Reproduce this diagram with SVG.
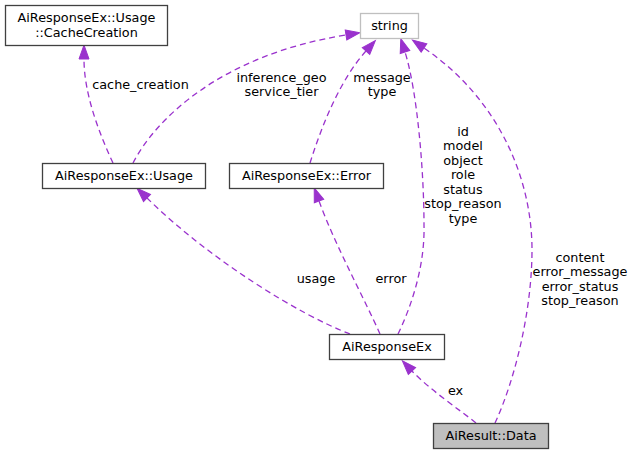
<svg xmlns="http://www.w3.org/2000/svg" width="633" height="455" viewBox="0 0 633 455">
<style>
text{font-family:"DejaVu Sans","Liberation Sans",sans-serif;font-size:12.8px;fill:#000;text-anchor:middle}
.box{fill:#fff;stroke:#404040;stroke-width:1.3}
.ext{fill:#fff;stroke:#bfbfbf;stroke-width:1.3}
.cur{fill:#bfbfbf;stroke:#404040;stroke-width:1.3}
.edge{fill:none;stroke:#9a32cd;stroke-width:1.3;stroke-dasharray:6,4;marker-end:url(#arr)}
</style>
<defs>
<marker id="arr" markerUnits="userSpaceOnUse" markerWidth="16" markerHeight="12" refX="0" refY="5" orient="auto" overflow="visible">
<path d="M0,0 L14,5 L0,10 Z" fill="#9a32cd" stroke="#9a32cd" stroke-width="1"/>
</marker>
</defs>
<rect width="633" height="455" fill="#fff"/>
<g id="edges">
<path class="edge" d="M113,163 C100,135 84,95 84,59"/>
<path class="edge" d="M133,163 C155,120 220,55 346,35"/>
<path class="edge" d="M310,163 C322,125 340,80 366,51"/>
<path class="edge" d="M398,334 C412,305 425,265 424,225 C424,170 417,90 405,52"/>
<path class="edge" d="M495,423 C515,380 532,310 532,250 C532,180 500,100 424,48"/>
<path class="edge" d="M350,334 C300,315 210,260 147,198"/>
<path class="edge" d="M380,334 C365,300 335,245 319,201"/>
<path class="edge" d="M476,423 C460,410 430,390 412,371"/>
<text x="140.5" y="89">cache_creation</text>
<text x="281.5" y="82">inference_geo</text>
<text x="281.5" y="96">service_tier</text>
<text x="382" y="82">message</text>
<text x="382" y="96">type</text>
<text x="463" y="135.5">id</text>
<text x="463" y="150">model</text>
<text x="463" y="164.5">object</text>
<text x="463" y="179">role</text>
<text x="463" y="193.5">status</text>
<text x="463" y="208">stop_reason</text>
<text x="463" y="222.5">type</text>
<text x="580" y="261.5">content</text>
<text x="580" y="276">error_message</text>
<text x="580" y="290.5">error_status</text>
<text x="580" y="305">stop_reason</text>
<text x="316" y="283">usage</text>
<text x="391" y="283">error</text>
<text x="455.5" y="395">ex</text>
</g>
<g id="node_cachecreation">
<rect class="box" x="5.5" y="5.5" width="162" height="40"/>
<text x="86.5" y="22">AiResponseEx::Usage</text>
<text x="86.5" y="37">::CacheCreation</text>
</g>
<g id="node_string">
<rect class="ext" x="360.5" y="13.5" width="58" height="25"/>
<text x="389.5" y="30">string</text>
</g>
<g id="node_usage">
<rect class="box" x="42.5" y="163.5" width="163" height="25"/>
<text x="124" y="180">AiResponseEx::Usage</text>
</g>
<g id="node_error">
<rect class="box" x="229.5" y="163.5" width="154" height="25"/>
<text x="306.5" y="180">AiResponseEx::Error</text>
</g>
<g id="node_airesponseex">
<rect class="box" x="329.5" y="334.5" width="115" height="25"/>
<text x="387" y="351">AiResponseEx</text>
</g>
<g id="node_data">
<rect class="cur" x="433.5" y="423.5" width="115" height="25"/>
<text x="491" y="440">AiResult::Data</text>
</g>
</svg>
